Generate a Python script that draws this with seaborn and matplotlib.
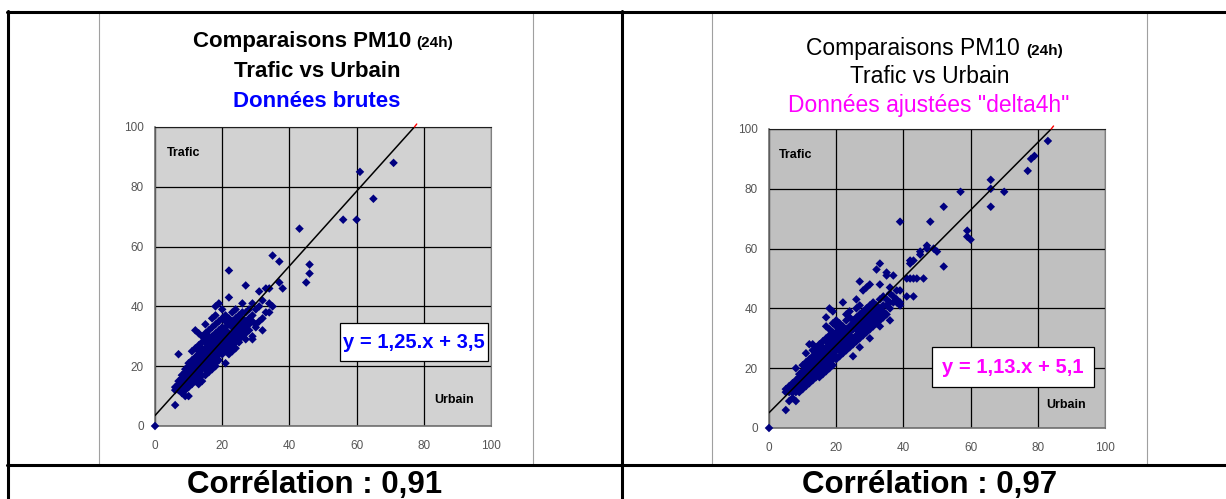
import matplotlib.pyplot as plt
import pandas as pd
import seaborn as sns
from matplotlib.lines import Line2D
from matplotlib.patches import Rectangle

# (Urbain, Trafic) daily PM10 pairs
points_brutes = [
    (0, 0),
    (6, 12), (6, 13), (6, 7),
    (7, 14), (7, 15), (7, 12), (7, 24), (7, 13),
    (8, 13), (8, 15), (8, 16), (8, 17), (8, 11), (8, 14),
    (9, 14), (9, 16), (9, 17), (9, 18), (9, 12), (9, 19), (9, 10), (9, 15),
    (10, 15), (10, 16), (10, 18), (10, 19), (10, 20), (10, 13), (10, 17), (10, 21), (10, 10),
    (11, 16), (11, 18), (11, 19), (11, 20), (11, 21), (11, 14), (11, 22), (11, 17), (11, 25),
    (12, 17), (12, 18), (12, 19), (12, 20), (12, 22), (12, 23), (12, 15), (12, 21), (12, 26), (12, 32), (12, 16),
    (13, 18), (13, 19), (13, 20), (13, 21), (13, 22), (13, 24), (13, 25), (13, 16), (13, 27), (13, 31), (13, 14),
    (14, 19), (14, 20), (14, 21), (14, 22), (14, 23), (14, 24), (14, 26), (14, 28), (14, 17), (14, 30), (14, 15),
    (15, 19), (15, 20), (15, 21), (15, 22), (15, 23), (15, 24), (15, 25), (15, 26), (15, 28), (15, 29), (15, 31),
    (15, 34), (15, 17),
    (16, 20), (16, 21), (16, 22), (16, 23), (16, 25), (16, 26), (16, 27), (16, 28), (16, 30), (16, 32), (16, 18),
    (16, 24),
    (17, 20), (17, 22), (17, 24), (17, 25), (17, 26), (17, 27), (17, 28), (17, 29), (17, 30), (17, 33), (17, 19),
    (17, 36),
    (18, 21), (18, 23), (18, 25), (18, 26), (18, 27), (18, 28), (18, 29), (18, 30), (18, 31), (18, 34), (18, 40),
    (18, 20), (18, 37),
    (19, 22), (19, 24), (19, 26), (19, 27), (19, 28), (19, 29), (19, 30), (19, 32), (19, 35), (19, 41), (19, 25),
    (20, 24), (20, 25), (20, 27), (20, 28), (20, 29), (20, 30), (20, 31), (20, 33), (20, 36), (20, 39), (20, 26),
    (21, 21), (21, 25), (21, 27), (21, 29), (21, 30), (21, 32), (21, 33), (21, 35), (21, 37), (21, 28),
    (22, 26), (22, 28), (22, 30), (22, 31), (22, 34), (22, 36), (22, 43), (22, 52), (22, 24),
    (23, 25), (23, 27), (23, 29), (23, 31), (23, 33), (23, 35), (23, 38), (23, 30),
    (24, 28), (24, 30), (24, 32), (24, 34), (24, 36), (24, 26), (24, 39),
    (25, 29), (25, 31), (25, 33), (25, 35), (25, 37), (25, 28),
    (26, 30), (26, 32), (26, 34), (26, 36), (26, 38), (26, 41),
    (27, 31), (27, 33), (27, 35), (27, 38), (27, 47), (27, 29),
    (28, 32), (28, 34), (28, 36), (28, 39),
    (29, 30), (29, 35), (29, 41), (29, 29), (29, 37),
    (30, 33), (30, 39), (30, 34),
    (31, 40), (31, 45), (31, 35),
    (32, 32), (32, 42), (32, 36),
    (33, 38), (33, 46),
    (34, 41), (34, 46), (34, 38),
    (35, 40), (35, 57),
    (37, 48), (37, 55), (38, 46),
    (43, 66), (45, 48), (46, 51), (46, 54),
    (56, 69), (60, 69), (61, 85), (65, 76), (71, 88),
]

points_ajustees = [
    (0, 0),
    (5, 6), (5, 12), (5, 13),
    (6, 9), (6, 12), (6, 14), (6, 13),
    (7, 10), (7, 13), (7, 14), (7, 15), (7, 12),
    (8, 9), (8, 13), (8, 14), (8, 15), (8, 16), (8, 20), (8, 12),
    (9, 12), (9, 14), (9, 15), (9, 16), (9, 17), (9, 18), (9, 13),
    (10, 13), (10, 15), (10, 16), (10, 17), (10, 18), (10, 19), (10, 21), (10, 14),
    (11, 14), (11, 16), (11, 17), (11, 18), (11, 19), (11, 20), (11, 22), (11, 15), (11, 25),
    (12, 15), (12, 17), (12, 18), (12, 19), (12, 20), (12, 21), (12, 23), (12, 28), (12, 16),
    (13, 16), (13, 17), (13, 19), (13, 20), (13, 21), (13, 22), (13, 24), (13, 26), (13, 28), (13, 18),
    (14, 17), (14, 18), (14, 20), (14, 21), (14, 22), (14, 23), (14, 25), (14, 27), (14, 19),
    (15, 17), (15, 19), (15, 21), (15, 22), (15, 23), (15, 24), (15, 25), (15, 26), (15, 28), (15, 20),
    (16, 18), (16, 20), (16, 22), (16, 23), (16, 24), (16, 25), (16, 27), (16, 29), (16, 21),
    (17, 19), (17, 21), (17, 23), (17, 24), (17, 26), (17, 27), (17, 29), (17, 30), (17, 34), (17, 37),
    (18, 20), (18, 22), (18, 24), (18, 25), (18, 27), (18, 28), (18, 30), (18, 31), (18, 33), (18, 40),
    (19, 21), (19, 23), (19, 25), (19, 27), (19, 28), (19, 29), (19, 31), (19, 32), (19, 39), (19, 35),
    (20, 23), (20, 24), (20, 26), (20, 28), (20, 29), (20, 30), (20, 32), (20, 34), (20, 36),
    (21, 24), (21, 26), (21, 27), (21, 29), (21, 31), (21, 33), (21, 35), (21, 30),
    (22, 25), (22, 27), (22, 29), (22, 30), (22, 32), (22, 34), (22, 42), (22, 28),
    (23, 26), (23, 28), (23, 30), (23, 31), (23, 33), (23, 36), (23, 38),
    (24, 27), (24, 29), (24, 31), (24, 32), (24, 34), (24, 37), (24, 39),
    (25, 24), (25, 28), (25, 30), (25, 33), (25, 35), (25, 36),
    (26, 29), (26, 31), (26, 33), (26, 35), (26, 37), (26, 43), (26, 40),
    (27, 27), (27, 30), (27, 32), (27, 34), (27, 36), (27, 38), (27, 49), (27, 41),
    (28, 31), (28, 33), (28, 35), (28, 37), (28, 39), (28, 46),
    (29, 32), (29, 34), (29, 36), (29, 38), (29, 40), (29, 47),
    (30, 30), (30, 33), (30, 35), (30, 37), (30, 39), (30, 41), (30, 48),
    (31, 34), (31, 36), (31, 38), (31, 40), (31, 42),
    (32, 35), (32, 37), (32, 39), (32, 41), (32, 53),
    (33, 34), (33, 36), (33, 38), (33, 40), (33, 43), (33, 55), (33, 48),
    (34, 37), (34, 39), (34, 41), (34, 44),
    (35, 38), (35, 41), (35, 43), (35, 51), (35, 52),
    (36, 36), (36, 40), (36, 42), (36, 45), (36, 47),
    (37, 42), (37, 44), (37, 51),
    (38, 42), (38, 43), (38, 46),
    (39, 41), (39, 42), (39, 46), (39, 69),
    (41, 44), (41, 50), (42, 50), (42, 56), (42, 55), (43, 44), (43, 50), (43, 56),
    (44, 50), (45, 58), (45, 59), (46, 50), (47, 60), (47, 61), (48, 69), (49, 60), (50, 59),
    (52, 54), (52, 74), (57, 79), (59, 64), (59, 66), (60, 63),
    (66, 74), (66, 80), (66, 83), (70, 79), (77, 86), (78, 90), (79, 91), (83, 96),
]

ticks = [0, 20, 40, 60, 80, 100]
corr_brutes = 'Corrélation : 0,91'
corr_ajustees = 'Corrélation : 0,97'

sns.set_style('white')
plt.rcParams['font.family'] = ['Liberation Sans', 'DejaVu Sans']
plt.rcParams['text.color'] = 'black'

W, H = 1226, 499


def fx(px):
    return px / W


def fy(py):
    return 1 - py / H


def draw_panel(ax, pts, bg, slope, icpt, eq_text, eq_color, box, trafic_pos, urbain_pos):
    df = pd.DataFrame(pts, columns=['Urbain', 'Trafic'])
    ax.set_facecolor(bg)
    ax.set_axisbelow(True)
    ax.grid(True, color='black', lw=0.9)
    sns.scatterplot(data=df, x='Urbain', y='Trafic', ax=ax, marker='D', s=19,
                    color='#000080', edgecolor='none', linewidth=0, legend=False,
                    zorder=3, clip_on=False)
    ax.axline((0, icpt), slope=slope, color='black', lw=1.1, zorder=4)
    x_end = (100 - icpt) / slope
    ax.plot([x_end, x_end + 0.7], [100, 101], color='red', lw=1, clip_on=False, zorder=4)
    ax.set_xlim(0, 100)
    ax.set_ylim(0, 100)
    ax.set_xticks(ticks)
    ax.set_yticks(ticks)
    ax.set_xlabel('')
    ax.set_ylabel('')
    ax.tick_params(direction='out', length=4, width=1, color='#808080',
                   labelcolor='#555555', labelsize=8.5)
    ax.tick_params(axis='x', pad=6)
    ax.tick_params(axis='y', pad=4)
    for side in ['left', 'bottom']:
        ax.spines[side].set_color('#707070')
        ax.spines[side].set_linewidth(1.2)
    ax.spines['top'].set_color('#202020')
    ax.spines['right'].set_color('#808080')
    x0, y0, x1, y1 = box
    ax.add_patch(Rectangle((x0, y0), x1 - x0, y1 - y0, facecolor='white',
                           edgecolor='black', lw=0.9, zorder=5))
    ax.text((x0 + x1) / 2, (y0 + y1) / 2, eq_text, color=eq_color, fontsize=14.5,
            fontweight='bold', ha='center', va='center', zorder=6)
    ax.text(trafic_pos[0], trafic_pos[1], 'Trafic', fontsize=9, fontweight='bold',
            ha='left', va='center', zorder=6)
    ax.text(urbain_pos[0], urbain_pos[1], 'Urbain', fontsize=9, fontweight='bold',
            ha='left', va='center', zorder=6)


fig = plt.figure(figsize=(W / 100, H / 100), dpi=100)

ax1 = fig.add_axes([fx(155), fy(426), 336 / W, 299 / H])
draw_panel(ax1, points_brutes, '#D2D2D2', 1.25, 3.5, 'y = 1,25.x + 3,5', '#0000FF',
           (55, 21.7, 99, 34.4), (3.6, 91.3), (83, 8.7))

ax2 = fig.add_axes([fx(769), fy(428), 336 / W, 299 / H])
draw_panel(ax2, points_ajustees, '#C0C0C0', 1.13, 5.1, 'y = 1,13.x + 5,1', '#FF00FF',
           (48.5, 13.7, 96.7, 27.1), (3, 91.3), (82.4, 7.7))

# titles of the two embedded charts
fig.text(fx(411), fy(47), 'Comparaisons PM10', fontsize=16, fontweight='bold',
         ha='right', va='baseline')
fig.text(fx(416), fy(47), '(24h)', fontsize=11, fontweight='bold', ha='left', va='baseline')
fig.text(fx(317), fy(77), 'Trafic vs Urbain', fontsize=16, fontweight='bold',
         ha='center', va='baseline')
fig.text(fx(317), fy(107), 'Données brutes', fontsize=16, fontweight='bold',
         color='#0000FF', ha='center', va='baseline')

fig.text(fx(1020), fy(55), 'Comparaisons PM10', fontsize=16.5, ha='right', va='baseline')
fig.text(fx(1026), fy(55), '(24h)', fontsize=11, fontweight='bold', ha='left', va='baseline')
fig.text(fx(930), fy(83), 'Trafic vs Urbain', fontsize=16.5, ha='center', va='baseline')
fig.text(fx(929), fy(112), 'Données ajustées "delta4h"', fontsize=16.5, color='#FF00FF',
         ha='center', va='baseline')

fig.text(fx(315), fy(493), corr_brutes, fontsize=22.5, fontweight='bold',
         ha='center', va='baseline')
fig.text(fx(930), fy(493), corr_ajustees, fontsize=22.5, fontweight='bold',
         ha='center', va='baseline')

# table borders and image frames
for x in [99, 533, 712, 1147]:
    fig.add_artist(Line2D([fx(x), fx(x)], [fy(13), fy(464)], color='#A0A0A0', lw=0.8))
for y in [12, 465]:
    fig.add_artist(Line2D([fx(7), 1], [fy(y), fy(y)], color='black', lw=2.2))
for x in [8, 622]:
    fig.add_artist(Line2D([fx(x), fx(x)], [fy(11), 0], color='black', lw=2.2))

fig.savefig('out.png', dpi=100)
plt.close()
